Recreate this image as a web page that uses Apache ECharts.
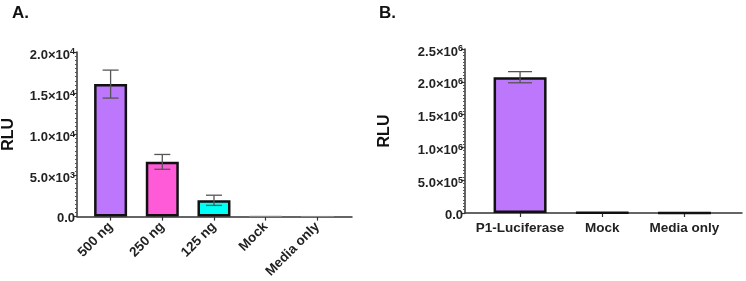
<!DOCTYPE html>
<html lang="en">

<head>
  <meta charset="UTF-8">
  <title>RLU</title>
  <script src="https://cdn.jsdelivr.net/npm/echarts@6/dist/echarts.min.js"></script>
</head>

<body style="margin:0">
  <div id="main" style="width: 746px;height: 281px;"></div>
  <script>
    const myEcharts = echarts.init(document.getElementById('main'))

    // panel A
    const catsA = ['500 ng', '250 ng', '125 ng', 'Mock', 'Media only']
    const valsA = [16100, 6650, 1980, 50, 30]
    const errA = [1700, 900, 620, 0, 0]
    const colorsA = ['#BD77FC', '#FF5AD8', '#00FFF4', '#888888', '#888888']
    const ticksA = [0, 5000, 10000, 15000, 20000]

    // panel B
    const catsB = ['P1-Luciferase', 'Mock', 'Media only']
    const valsB = [2070000, 5000, 2000]
    const errB = [85000, 0, 0]
    const colorsB = ['#BD77FC', '#888888', '#888888']
    const ticksB = [0, 500000, 1000000, 1500000, 2000000, 2500000]

    const font = 'Liberation Sans'

    // 1.5e4 -> 1.5×10^4 as rich text
    function sci(v) {
      if (v === 0) return '{z|0.0}'
      const e = Math.floor(Math.log10(v))
      const m = (v / Math.pow(10, e)).toFixed(1)
      return `{m|${m}×10}{e|${e}}`
    }
    const richY = {
      z: { fontFamily: font, fontWeight: 'bold', fontSize: 13, color: '#222', verticalAlign: 'top', lineHeight: 14, padding: [0, 0, 5, 0] },
      m: { fontFamily: font, fontWeight: 'bold', fontSize: 13, color: '#222', verticalAlign: 'bottom', lineHeight: 14 },
      e: { fontFamily: font, fontWeight: 'bold', fontSize: 9, color: '#222', verticalAlign: 'top', lineHeight: 10, padding: [0, 0, 6, 0] }
    }

    function yAxisOf(idx, ticks, gap) {
      return {
        type: 'value',
        gridIndex: idx,
        min: 0,
        max: ticks[ticks.length - 1],
        interval: ticks[1] - ticks[0],
        name: 'RLU',
        nameLocation: 'middle',
        nameGap: gap,
        nameTextStyle: { fontFamily: font, fontWeight: 'bold', fontSize: 16, color: '#111' },
        axisLine: { show: true, onZero: false, lineStyle: { color: '#333', width: 1.5 } },
        axisTick: { show: true, length: 4, lineStyle: { color: '#333', width: 1.2 } },
        minorTick: { show: true, splitNumber: 10, length: 2, lineStyle: { color: '#555' } },
        splitLine: { show: false },
        axisLabel: { margin: 2, padding: [5, 0, 0, 0], formatter: sci, rich: richY }
      }
    }

    function xAxisOf(idx, cats, min, max, rotate) {
      const vals = cats.map((c, i) => i)
      return {
        type: 'value',
        gridIndex: idx,
        min: min,
        max: max,
        axisLine: { show: true, onZero: false, lineStyle: { color: '#333', width: 1.5 } },
        axisTick: { show: true, length: 4, customValues: vals, lineStyle: { color: '#333', width: 1.2 } },
        splitLine: { show: false },
        axisLabel: {
          customValues: vals,
          rotate: rotate,
          margin: 8,
          fontFamily: font,
          fontWeight: 'bold',
          fontSize: 13.5,
          color: '#222',
          formatter: v => cats[Math.round(v)]
        }
      }
    }

    function barSeries(idx, vals, colors, width) {
      return {
        type: 'bar',
        xAxisIndex: idx,
        yAxisIndex: idx,
        barWidth: width,
        data: vals.map((v, i) => ({
          value: [i, v],
          itemStyle: { color: colors[i], borderColor: v > 1000 ? '#111' : colors[i], borderWidth: v > 1000 ? 2.5 : 1 }
        }))
      }
    }

    function errSeries(idx, vals, errs, cap) {
      return {
        type: 'custom',
        xAxisIndex: idx,
        yAxisIndex: idx,
        data: vals.map((v, i) => [i, v - errs[i], v + errs[i]]).filter((d, i) => errs[i] > 0),
        renderItem(params, api) {
          const lo = api.coord([api.value(0), api.value(1)])
          const hi = api.coord([api.value(0), api.value(2)])
          const style = { stroke: '#555', lineWidth: 1.3 }
          return {
            type: 'group',
            children: [
              { type: 'line', shape: { x1: hi[0], y1: hi[1], x2: lo[0], y2: lo[1] }, style },
              { type: 'line', shape: { x1: hi[0] - cap, y1: hi[1], x2: hi[0] + cap, y2: hi[1] }, style },
              { type: 'line', shape: { x1: lo[0] - cap, y1: lo[1], x2: lo[0] + cap, y2: lo[1] }, style }
            ]
          }
        },
        z: 5
      }
    }

    const option = {
      animation: false,
      title: [
        { text: 'A.', left: 7, top: 0, textStyle: { fontFamily: font, fontWeight: 'bold', fontSize: 17, color: '#111' } },
        { text: 'B.', left: 374, top: 0, textStyle: { fontFamily: font, fontWeight: 'bold', fontSize: 17, color: '#111' } }
      ],
      grid: [
        { left: 74, top: 52, right: 394, bottom: 64 },
        { left: 465, top: 49, right: 4, bottom: 68 }
      ],
      xAxis: [
        xAxisOf(0, catsA, -0.65, 4.67, 45),
        xAxisOf(1, catsB, -0.67, 2.7, 0)
      ],
      yAxis: [
        yAxisOf(0, ticksA, 60),
        yAxisOf(1, ticksB, 72)
      ],
      series: [
        barSeries(0, valsA, colorsA, 33),
        errSeries(0, valsA, errA, 8),
        barSeries(1, valsB, colorsB, 53),
        errSeries(1, valsB, errB, 12)
      ]
    }

    myEcharts.setOption(option)
  </script>
</body>

</html>
